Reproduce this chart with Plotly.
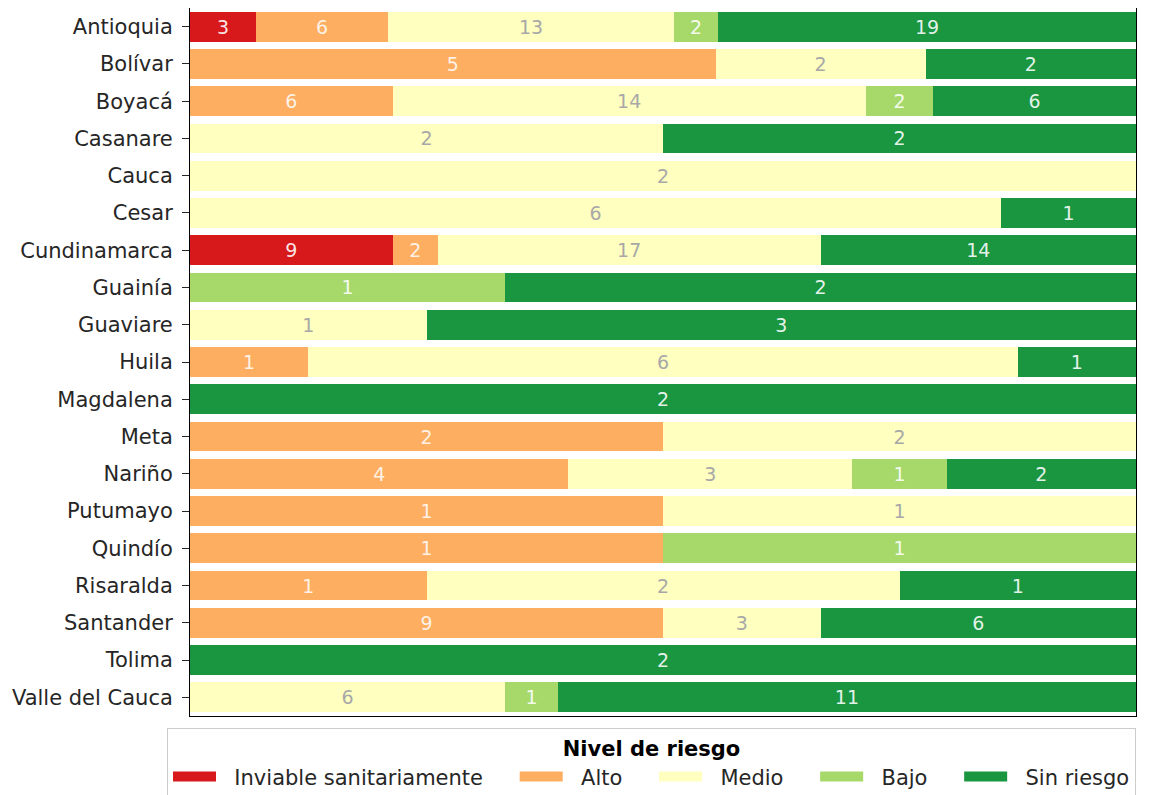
import plotly.graph_objects as go

# ── Data ───────────────────────────────────────────────────────────────
departamentos = [
    "Antioquia", "Bolívar", "Boyacá", "Casanare", "Cauca", "Cesar",
    "Cundinamarca", "Guainía", "Guaviare", "Huila", "Magdalena", "Meta",
    "Nariño", "Putumayo", "Quindío", "Risaralda", "Santander", "Tolima",
    "Valle del Cauca",
]
niveles = ["Inviable sanitariamente", "Alto", "Medio", "Bajo", "Sin riesgo"]

inviable = [3, 0, 0, 0, 0, 0, 9, 0, 0, 0, 0, 0, 0, 0, 0, 0, 0, 0, 0]
alto = [6, 5, 6, 0, 0, 0, 2, 0, 0, 1, 0, 2, 4, 1, 1, 1, 9, 0, 0]
medio = [13, 2, 14, 2, 2, 6, 17, 0, 1, 6, 0, 2, 3, 1, 0, 2, 3, 0, 6]
bajo = [2, 0, 2, 0, 0, 0, 0, 1, 0, 0, 0, 0, 1, 0, 1, 0, 0, 0, 1]
sin_riesgo = [19, 2, 6, 2, 0, 1, 14, 2, 3, 1, 2, 0, 2, 0, 0, 1, 6, 2, 11]

colores = ["#d7191c", "#fdae61", "#ffffbf", "#a6d96a", "#1a9641"]
color_texto = ["rgba(255,255,255,0.9)", "rgba(255,255,255,0.85)", "#a8a8a8",
               "rgba(255,255,255,0.9)", "rgba(255,255,255,0.9)"]

series = [inviable, alto, medio, bajo, sin_riesgo]
totales = [sum(v) for v in zip(*series)]

fig = go.Figure()
for nombre, valores, color, tcolor in zip(niveles, series, colores, color_texto):
    pct = [v / t * 100 if t else 0 for v, t in zip(valores, totales)]
    fig.add_trace(go.Bar(
        y=departamentos,
        x=pct,
        name=nombre,
        orientation="h",
        marker=dict(color=color, line=dict(width=0)),
        text=[str(v) if v else "" for v in valores],
        textposition="inside",
        insidetextanchor="middle",
        textangle=0,
        textfont=dict(color=tcolor, size=19, family="DejaVu Sans"),
        hoverinfo="name+text",
        showlegend=False,
    ))

# legend swatches drawn as thick line segments (wide rectangles);
# non-breaking spaces pad the entries like the original column spacing
NB = "\u00a0"
relleno = [4, 4, 4, 4, 0]
for nombre, color, n in zip(niveles, colores, relleno):
    fig.add_trace(go.Scatter(
        x=[None], y=[None],
        mode="lines",
        name=NB * 2 + nombre + NB * n,
        line=dict(color=color, width=15),
        hoverinfo="skip",
    ))

fig.update_layout(
    width=1152,
    height=795,
    barmode="stack",
    bargap=0.2,
    paper_bgcolor="white",
    plot_bgcolor="white",
    font=dict(family="DejaVu Sans", size=21, color="#262626"),
    margin=dict(l=182, r=24, t=0, b=87, autoexpand=False),
    uniformtext=dict(minsize=8, mode="show"),
    xaxis=dict(
        range=[0, 100],
        showticklabels=False,
        showgrid=False,
        zeroline=False,
        showline=True,
        linecolor="black",
        linewidth=1,
        mirror=True,
        ticks="",
        automargin=False,
    ),
    yaxis=dict(
        autorange="reversed",
        automargin=False,
        showgrid=False,
        showline=True,
        linecolor="black",
        linewidth=1,
        mirror=True,
        ticks="outside",
        ticklen=7,
        tickcolor="#262626",
        ticklabelstandoff=5,
        tickfont=dict(size=21, color="#262626"),
    ),
    legend=dict(
        orientation="h",
        x=-0.0243,
        xanchor="left",
        y=-0.017,
        yanchor="top",
        bordercolor="#cccccc",
        borderwidth=1,
        itemwidth=43,
        font=dict(size=21, color="#262626"),
        title=dict(text="<b>Nivel de riesgo</b>", side="top center",
                   font=dict(size=21, color="black")),
        traceorder="normal",
    ),
)

fig.write_html("out.html")
